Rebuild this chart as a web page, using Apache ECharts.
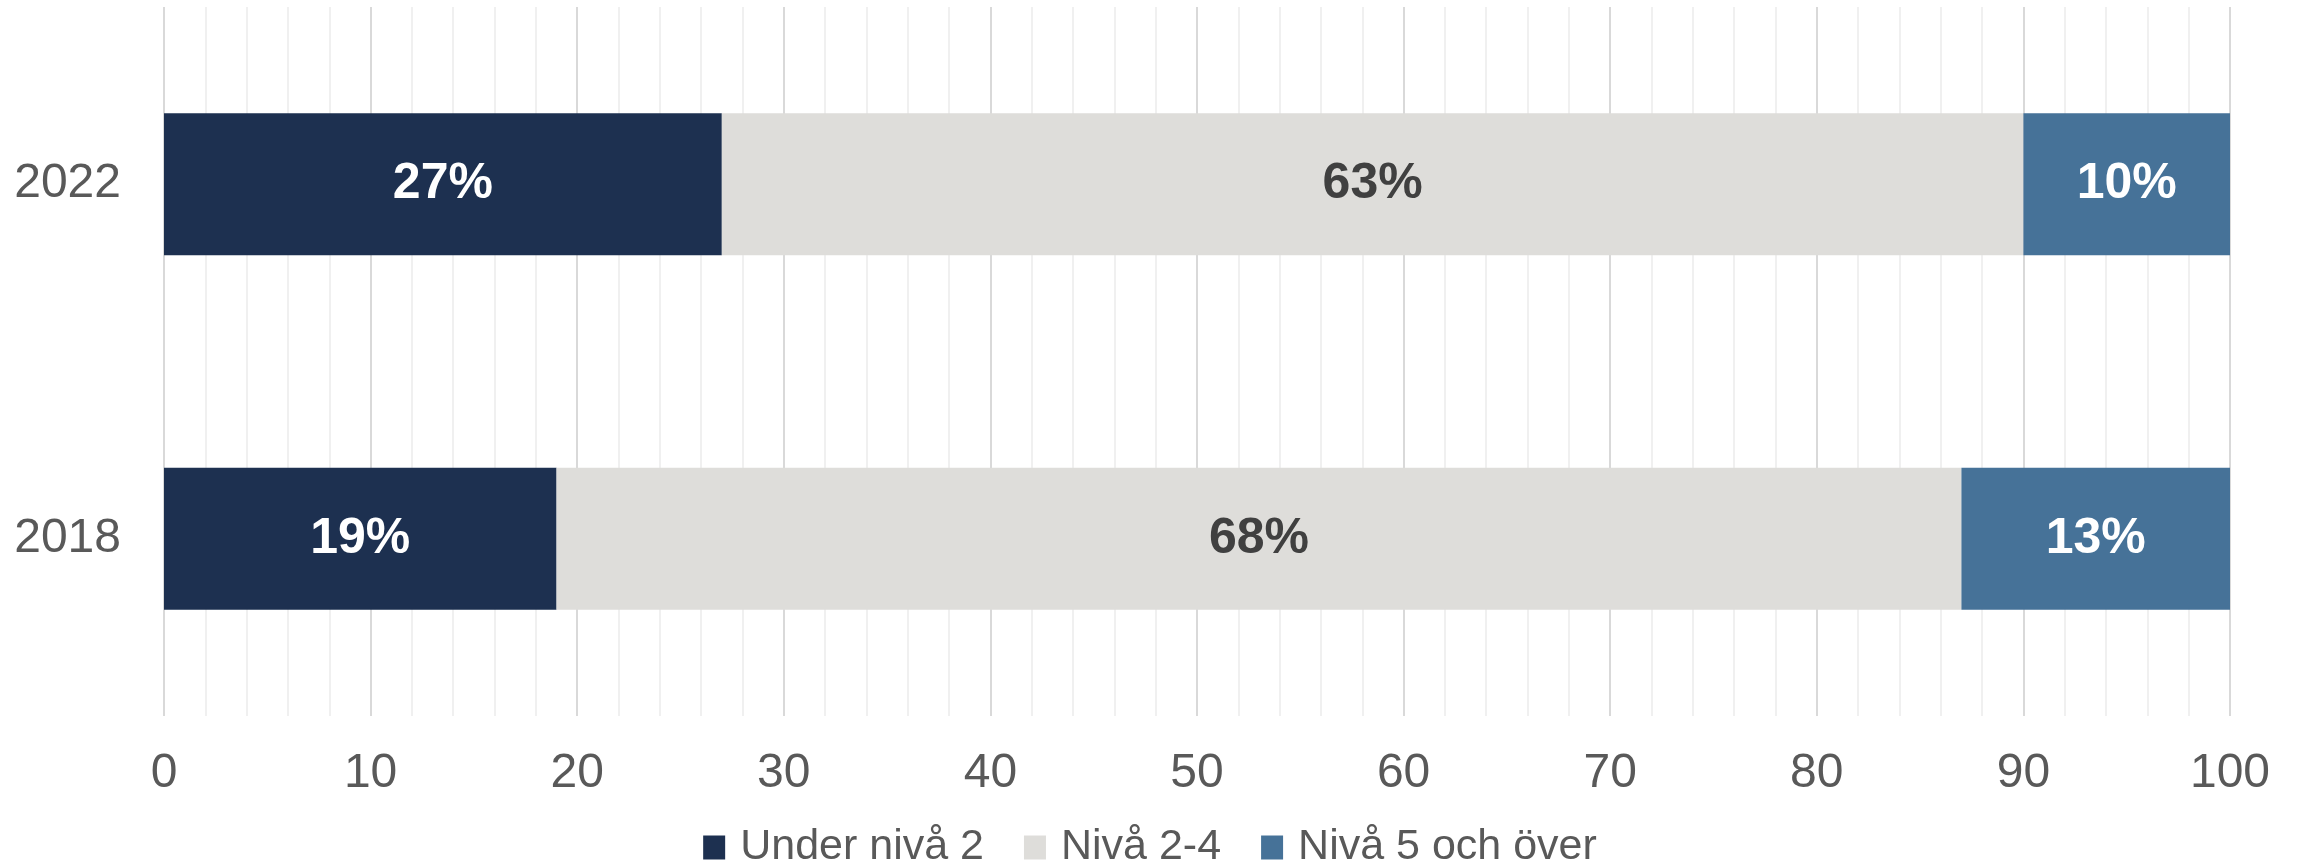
<!DOCTYPE html>
<html>
<head>
<meta charset="utf-8">
<script src="https://cdn.jsdelivr.net/npm/echarts@6/dist/echarts.min.js"></script>
<style>
  html, body { margin: 0; padding: 0; background: #ffffff; }
  #chart { width: 2300px; height: 864px; }
</style>
</head>
<body>
<div id="chart"></div>
<script>
// Data
const years = ['2022', '2018'];
const seriesNames = ['Under nivå 2', 'Nivå 2-4', 'Nivå 5 och över'];
const underNiva2 = [27, 19];
const niva2to4 = [63, 68];
const niva5plus = [10, 13];
const xTicks = [0, 10, 20, 30, 40, 50, 60, 70, 80, 90, 100];

const colors = ['#1D3050', '#DEDDDA', '#467298'];
const labelColors = ['#FFFFFF', '#404040', '#FFFFFF'];
const FONT = '"Liberation Sans", Arial, sans-serif';

const values = [underNiva2, niva2to4, niva5plus];

const chart = echarts.init(document.getElementById('chart'), null, { renderer: 'canvas' });

const option = {
  animation: false,
  backgroundColor: '#ffffff',
  textStyle: { fontFamily: FONT },
  grid: { left: 164, right: 70, top: 7, bottom: 148, containLabel: false },
  legend: {
    left: 'center',
    top: 821,
    itemWidth: 22,
    itemHeight: 24,
    itemGap: 40,
    icon: 'rect',
    data: seriesNames,
    textStyle: { fontFamily: FONT, fontSize: 43, color: '#595959', padding: [0, 0, 0, 10] }
  },
  xAxis: {
    type: 'value',
    min: xTicks[0],
    max: xTicks[xTicks.length - 1],
    interval: 10,
    axisLine: { show: false },
    axisTick: { show: false },
    axisLabel: { fontFamily: FONT, fontSize: 48, color: '#595959', margin: 34 },
    splitLine: { show: true, lineStyle: { color: '#D9D9D9', width: 2 } },
    minorTick: { show: false, splitNumber: 5 },
    minorSplitLine: { show: true, lineStyle: { color: '#F0F0F0', width: 2 } }
  },
  yAxis: {
    type: 'category',
    data: years,
    inverse: true,
    axisLine: { show: false },
    axisTick: { show: false },
    axisLabel: { fontFamily: FONT, fontSize: 48, color: '#595959', margin: 43 },
    splitLine: { show: false }
  },
  series: seriesNames.map((name, i) => ({
    name: name,
    type: 'bar',
    stack: 'total',
    barWidth: '40%',
    data: values[i],
    itemStyle: { color: colors[i] },
    label: {
      show: true,
      position: 'inside',
      formatter: '{c}%',
      fontFamily: FONT,
      fontSize: 50,
      fontWeight: 'bold',
      color: labelColors[i]
    }
  }))
};

chart.setOption(option);
</script>
</body>
</html>
